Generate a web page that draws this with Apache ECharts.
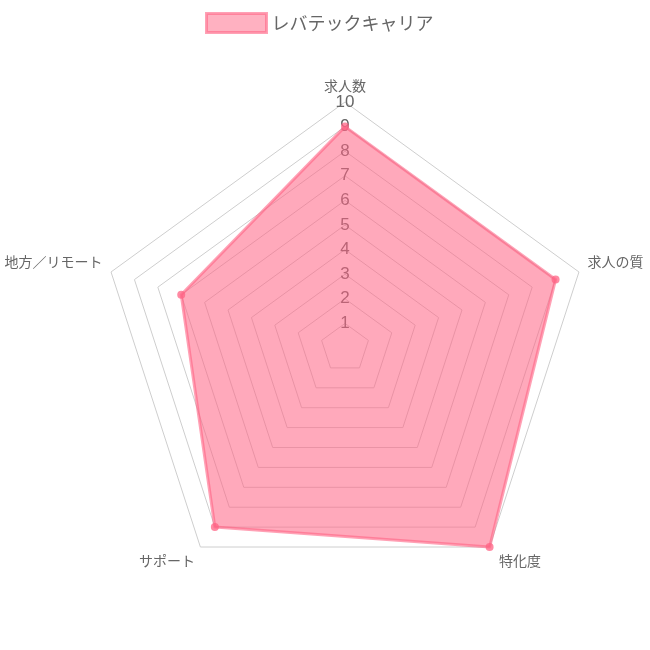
<meta charset="utf-8" />
<style>
html, body { margin: 0; padding: 0; background: #fff; }
#chart { width: 650px; height: 650px; }
</style>
<div id="chart"></div>
<script src="https://cdn.jsdelivr.net/npm/echarts@6.0.0/dist/echarts.min.js"></script>
<script>
const seriesName = 'レバテックキャリア';
const axes = ['求人数', '求人の質', '特化度', 'サポート', '地方／リモート'];
const scores = [9, 9, 10, 9, 7];
const scaleMax = 10;
const tickStep = 1;

const FONT = '"Noto Sans CJK JP", "Noto Sans", sans-serif';
const cx = 345, cy = 348, R = 246;

// echarts lays radar axes out counter-clockwise; the picture goes clockwise
const order = axes.map((_, i) => (axes.length - i) % axes.length);
// label nudges: side labels sit a bit higher, bottom ones a bit lower
const nameStyle = ['top', 'side', 'bottom', 'bottom', 'side'];

const chart = echarts.init(document.getElementById('chart'));
chart.setOption({
  animation: false,
  legend: {
    top: 7,
    left: 200,
    itemWidth: 60,
    itemHeight: 19,
    itemGap: 10,
    textStyle: { fontFamily: FONT, fontSize: 18, color: '#666' },
    data: [{
      name: seriesName,
      icon: 'rect',
      itemStyle: { color: 'rgba(255, 99, 132, 0.5)', borderColor: 'rgba(255, 99, 132, 0.6)', borderWidth: 3 }
    }]
  },
  // vertical scale used only for the tick labels along the first axis
  grid: { left: cx, top: cy - R, width: 1, height: R },
  xAxis: { type: 'value', show: false },
  yAxis: {
    type: 'value',
    min: 0,
    max: scaleMax,
    interval: tickStep,
    axisLine: { show: false },
    axisTick: { show: false },
    splitLine: { show: false },
    axisLabel: {
      align: 'center',
      margin: 0,
      fontFamily: '"Liberation Sans", sans-serif',
      fontSize: 17,
      color: '#666',
      formatter: v => (v === 0 ? '' : v)
    }
  },
  radar: {
    center: [cx, cy],
    radius: R,
    startAngle: 90,
    splitNumber: scaleMax / tickStep,
    shape: 'polygon',
    indicator: order.map(i => ({ name: axes[i], min: 0, max: scaleMax })),
    axisName: {
      fontFamily: FONT,
      fontSize: 14,
      color: '#666',
      formatter: name => `{${nameStyle[axes.indexOf(name)]}|${name}}`,
      rich: {
        top: { fontFamily: FONT, fontSize: 14, color: '#666' },
        side: { fontFamily: FONT, fontSize: 14, color: '#666', padding: [0, 0, 16, 0] },
        bottom: { fontFamily: FONT, fontSize: 14, color: '#666', padding: [13, 0, 0, 4] }
      }
    },
    nameGap: 9,
    axisLine: { show: false },
    splitArea: { show: false },
    splitLine: { lineStyle: { color: '#cecece', width: 1 } }
  },
  series: [{
    name: seriesName,
    type: 'radar',
    symbol: 'circle',
    symbolSize: 8,
    itemStyle: { color: 'rgba(255, 99, 132, 0.75)' },
    lineStyle: { color: 'rgba(255, 99, 132, 0.6)', width: 3 },
    areaStyle: { color: 'rgba(255, 99, 132, 0.55)', opacity: 1 },
    data: [{ name: seriesName, value: order.map(i => scores[i]) }]
  }]
});
</script>
